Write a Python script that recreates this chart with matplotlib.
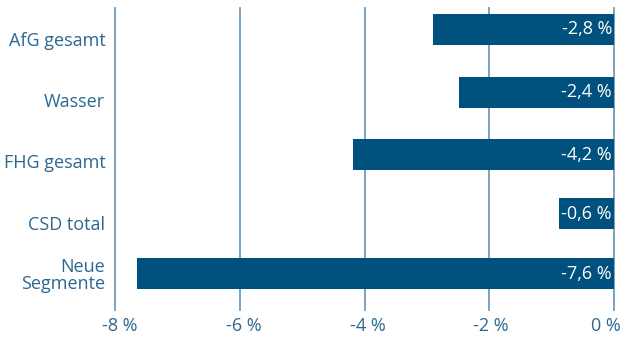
import numpy as np
import matplotlib.pyplot as plt
from matplotlib.transforms import ScaledTranslation

# --- data ---
categories = ['AfG gesamt', 'Wasser', 'FHG gesamt', 'CSD total', 'Neue\nSegmente']
bar_values = [-2.9, -2.48, -4.18, -0.88, -7.64]   # bar lengths as drawn
value_labels = ['-2,8 %', '-2,4 %', '-4,2 %', '-0,6 %', '-7,6 %']
x_ticks = [-8, -6, -4, -2, 0]
x_ticklabels = ['-8 %', '-6 %', '-4 %', '-2 %', '0 %']

# layout: row positions of bars and of category labels (not evenly aligned in the original)
bar_pos = [0, 1.03, 2.05, 3.02, 4.0]
label_pos = [0.16, 1.16, 2.16, 3.18, 4.0]
xlabel_shift_px = [5, 4.5, 3, 2, -8]

BAR_COLOR = '#00517e'
GRID_COLOR = '#6f9cbd'
TEXT_COLOR = '#2b6892'

plt.rcParams['font.family'] = ['Open Sans', 'DejaVu Sans']

fig = plt.figure(figsize=(6.24, 3.38), dpi=100)
ax = fig.add_axes([115 / 624, 1 - 310 / 338, (614 - 115) / 624, 302 / 338])

for x in x_ticks:
    ax.axvline(x, color=GRID_COLOR, lw=1.3, zorder=1, clip_on=False)
ax.barh(bar_pos, bar_values, height=0.51, color=BAR_COLOR, zorder=2)

for yi, lab in zip(bar_pos, value_labels):
    ax.annotate(lab, xy=(0, yi), xytext=(-1.5, 0), textcoords='offset points',
                ha='right', va='center', color='white', fontsize=13, zorder=3)

ax.set_xlim(-8, 0)
ax.set_ylim(4.598, -0.352)
ax.set_yticks(label_pos)
ax.set_yticklabels(categories, fontsize=13, color=TEXT_COLOR, linespacing=0.95)
ax.set_xticks(x_ticks)
ax.set_xticklabels(x_ticklabels, fontsize=13, color=TEXT_COLOR)
ax.tick_params(axis='y', length=0, pad=7)
ax.tick_params(axis='x', length=0, pad=5)
for lbl, dx in zip(ax.get_xticklabels(), xlabel_shift_px):
    lbl.set_transform(lbl.get_transform() + ScaledTranslation(dx / 100, 0, fig.dpi_scale_trans))
for s in ax.spines.values():
    s.set_visible(False)
ax.patch.set_alpha(0)

fig.savefig('out.png', dpi=100)
